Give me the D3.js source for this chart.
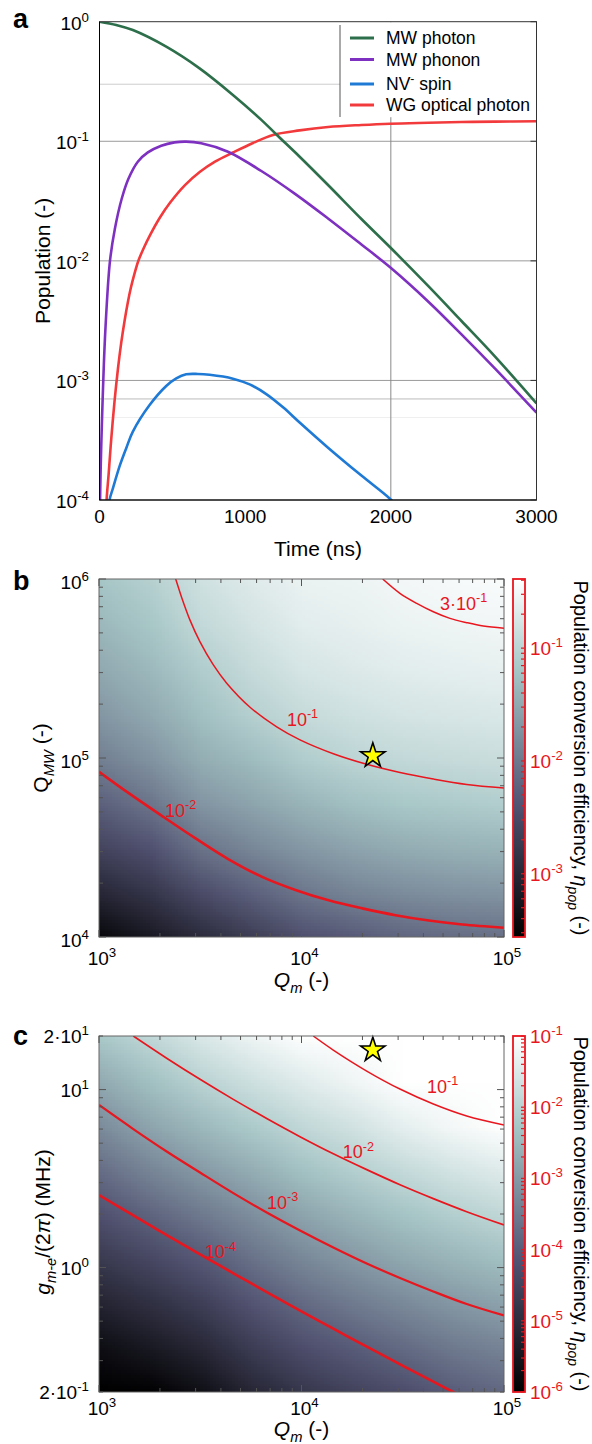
<!DOCTYPE html>
<html><head><meta charset="utf-8"><title>Population dynamics and conversion efficiency</title>
<script src="https://cdn.jsdelivr.net/npm/d3@7/dist/d3.min.js"></script>
<style>html,body{margin:0;padding:0;background:#fff;}svg{display:block;}</style>
</head><body>
<svg id="fig" width="592" height="1444" xmlns="http://www.w3.org/2000/svg"></svg>
<script>
// ================= DATA =================
// Panel a: population vs time (ns)
const photonTime  = [0,115,229,458,687,916,1111,1214,1374,1569,1798,1995,2256,2485,2714,3000];
const photonPop   = [1,0.938,0.851,0.618,0.407,0.244,0.151,0.114,0.0743,0.0431,0.0224,0.0130,0.00617,0.00314,0.00159,0.000643];
const phononTime  = [2,4,26,42,72,106,152,198,263,332,424,515,595,698,882,1111,1340,1569,1798,1995,2256,2485,2714,3000];
const phononPop   = [2e-5,1e-4,1e-3,0.0029,0.01,0.01866,0.0329,0.0484,0.0675,0.0807,0.0918,0.0979,0.0993,0.0962,0.0818,0.0564,0.0365,0.0226,0.0137,0.00883,0.004575,0.002426,0.001259,0.000538];
const spinTime    = [62,69,92,137,183,229,344,458,527,595,676,756,916,1031,1145,1260,1374,1569,1798,1992,2060];
const spinPop     = [7e-5,1e-4,1.25e-4,1.9e-4,2.70e-4,3.73e-4,6.22e-4,8.98e-4,1.040e-3,1.125e-3,1.132e-3,1.114e-3,1.035e-3,9.26e-4,7.69e-4,5.96e-4,4.45e-4,2.74e-4,1.60e-4,1.03e-4,8.5e-5];
const opticalTime = [44,48.7,62.5,80.3,103,126.3,149,172.3,195,214.9,240.3,266.4,305.5,347,415,484,587,690,793,916,1054,1191,1374,1569,1798,1995,2256,2485,2714,3000];
const opticalPop  = [6e-5,1e-4,1.63e-4,3.20e-4,6.65e-4,1.24e-3,2.06e-3,3.16e-3,4.53e-3,5.92e-3,7.82e-3,9.98e-3,0.01294,0.01643,0.02307,0.0306,0.0430,0.0556,0.0676,0.0805,0.0968,0.1130,0.1233,0.1315,0.1368,0.1403,0.1429,0.1449,0.1459,0.1469];
const timeTicks   = [0,1000,2000,3000];
const popTicks    = [1,0.1,0.01,0.001,0.0001];
const popTickExp  = ["0","-1","-2","-3","-4"];
const gridPopA    = [0.3,0.1,0.01,0.001,7e-4,4.9e-4];
const gridTimeA   = [2000];

// Panel b: efficiency map vs Qm and Q_MW (log10 eta on the grid)
const gridQm   = [1000,1778,3162,5623,10000,17783,31623,56234,100000];
const gridQmw  = [10000,17783,31623,56234,100000,177828,316228,562341,1000000];
const bLogEta = [
  [-3.45,-3.20,-2.95,-2.70,-2.45,-2.32,-2.20,-2.13,-2.10],
  [-3.00,-2.80,-2.50,-2.25,-2.02,-1.88,-1.80,-1.74,-1.71],
  [-2.60,-2.42,-2.06,-1.85,-1.68,-1.56,-1.47,-1.41,-1.38],
  [-2.25,-2.03,-1.70,-1.55,-1.38,-1.26,-1.17,-1.12,-1.09],
  [-1.92,-1.72,-1.45,-1.30,-1.10,-0.99,-0.93,-0.90,-0.87],
  [-1.68,-1.50,-1.26,-1.05,-0.90,-0.82,-0.77,-0.74,-0.72],
  [-1.50,-1.33,-1.10,-0.90,-0.76,-0.70,-0.65,-0.62,-0.60],
  [-1.34,-1.18,-0.93,-0.78,-0.65,-0.61,-0.56,-0.53,-0.51],
  [-1.20,-1.05,-0.82,-0.68,-0.57,-0.55,-0.50,-0.46,-0.43]
];
const bContour3e1 = [[25180,1000000],[30620,831800],[37070,731100],[44770,656100],[54080,602600],[65460,570200],[79070,545800],[100000,530900]];
const bContour1e1 = [[2294,1158000],[2392,1000000],[2562,786200],[2814,589300],[3154,445300],[3656,333300],[4272,261800],[5568,192200],[7544,149200],[9831,126200],[14360,105600],[20990,92220],[30650,82990],[44760,76330],[65430,71200],[100000,68000]];
const bContour1e2 = [[1000,83750],[1396,63830],[2042,47530],[2985,35650],[4365,27160],[6383,21680],[9333,18320],[13610,16030],[19950,14450],[29110,13240],[42560,12360],[62230,11750],[100000,11270]];
const bLabelText  = [["3·10","-1"],["10","-1"],["10","-2"]];
const bLabelAt    = [[48300,671000],[8470,151000],[2120,46800]];
const bStar       = [22500,103000];
const bColorRange = [2.75e-4,0.41];
const bColorTicks = [0.1,0.01,0.001];
const bColorExp   = ["-1","-2","-3"];
const qmTicks     = [1000,10000,100000];
const qmTickExp   = ["3","4","5"];
const qmwTicks    = [10000,100000,1000000];
const qmwTickExp  = ["4","5","6"];

// Panel c: efficiency map vs Qm and g_me/2pi (MHz) (log10 eta on the grid)
const gridG = [0.2,0.356,0.632,1.125,2.0,3.56,6.32,11.25,20.0];
const cLogEta = [
  [-6.19,-5.97,-5.66,-5.15,-4.78,-4.52,-4.29,-4.01,-3.80],
  [-5.70,-5.45,-5.13,-4.65,-4.28,-4.02,-3.78,-3.53,-3.36],
  [-5.20,-4.93,-4.60,-4.15,-3.79,-3.52,-3.27,-3.04,-2.87],
  [-4.71,-4.40,-4.07,-3.66,-3.31,-3.03,-2.77,-2.56,-2.37],
  [-4.21,-3.88,-3.53,-3.18,-2.83,-2.55,-2.30,-2.08,-1.89],
  [-3.72,-3.33,-2.99,-2.68,-2.34,-2.08,-1.83,-1.61,-1.44],
  [-3.22,-2.82,-2.49,-2.17,-1.87,-1.65,-1.36,-1.15,-1.00],
  [-2.73,-2.36,-1.99,-1.70,-1.45,-1.22,-0.92,-0.74,-0.65],
  [-2.23,-1.90,-1.54,-1.26,-1.03,-0.83,-0.60,-0.45,-0.38]
];
const cContour1e1 = [[11430,20.0],[14350,16.67],[20990,12.71],[30620,10.07],[44770,8.30],[65460,7.11],[100000,6.33]];
const cContour1e2 = [[1477,20.0],[2159,15.01],[3154,11.42],[4605,8.81],[6733,6.88],[9831,5.44],[14360,4.36],[20990,3.55],[30650,2.92],[44760,2.44],[65430,2.06],[100000,1.735]];
const cContour1e3 = [[1000,8.19],[1477,6.00],[2159,4.49],[3154,3.42],[4605,2.62],[6733,2.04],[9831,1.616],[14360,1.297],[20990,1.054],[30650,0.874],[44760,0.734],[65430,0.624],[100000,0.538]];
const cContour1e4 = [[1000,2.557],[1477,1.964],[2159,1.524],[3154,1.187],[4605,0.929],[6733,0.728],[9831,0.573],[14360,0.4535],[20990,0.3593],[30650,0.2861],[44760,0.2285],[60640,0.1913]];
const cLabelText  = [["10","-1"],["10","-2"],["10","-3"],["10","-4"]];
const cLabelAt    = [[41700,9.57],[16000,4.12],[6760,2.14],[3330,1.13]];
const cStar       = [22500,16.7];
const cColorRange = [1e-6,0.1];
const cColorTicks = [0.1,0.01,0.001,1e-4,1e-5,1e-6];
const cColorExp   = ["-1","-2","-3","-4","-5","-6"];
const gTicks      = [0.2,1,10,20];
const gTickText   = [["2·10","-1"],["10","0"],["10","1"],["2·10","1"]];

// ================= DRAWING =================
const FF = "'Liberation Sans', Arial, Helvetica, sans-serif";
const svg = d3.select("#fig").attr("font-family", FF);
const defs = svg.append("defs");
const RED = "#e8161e";

function rich(parent, x, y, parts, o = {}) {
  const size = o.size || 18;
  const t = parent.append("text").attr("x", x).attr("y", y)
    .attr("font-size", size).attr("text-anchor", o.anchor || "start")
    .attr("fill", o.fill || "#000");
  if (o.weight) t.attr("font-weight", o.weight);
  let cur = 0;
  parts.forEach(p => {
    const str = p[0], kind = p[1], ital = p[2];
    const target = kind === "sup" ? -0.42 * size : kind === "sub" ? 0.28 * size : 0;
    const s = t.append("tspan").text(str).attr("dy", target - cur);
    if (kind) s.attr("font-size", size * 0.7);
    if (ital) s.attr("font-style", "italic");
    cur = target;
  });
  return t;
}

function bone(t) {
  t = Math.max(0, Math.min(1, t));
  const a = 0.365079, b = 0.746032;
  const r = t < b ? t * 0.652778 / b : 0.652778 + (t - b) * (1 - 0.652778) / (1 - b);
  const g = t < a ? t * 0.319444 / a : t < b ? 0.319444 + (t - a) * (0.777778 - 0.319444) / (b - a) : 0.777778 + (t - b) * (1 - 0.777778) / (1 - b);
  const bl = t < a ? t * 0.444444 / a : 0.444444 + (t - a) * (1 - 0.444444) / (1 - a);
  return [Math.round(r * 255), Math.round(g * 255), Math.round(bl * 255)];
}
const boneGrad = defs.append("linearGradient").attr("id", "boneGrad")
  .attr("x1", 0).attr("y1", 1).attr("x2", 0).attr("y2", 0);
[0, 0.365079, 0.746032, 1].forEach(o => {
  const c = bone(o);
  boneGrad.append("stop").attr("offset", o).attr("stop-color", `rgb(${c[0]},${c[1]},${c[2]})`);
});

function clipRect(id, x0, y0, x1, y1) {
  defs.append("clipPath").attr("id", id).append("rect")
    .attr("x", x0).attr("y", y0).attr("width", x1 - x0).attr("height", y1 - y0);
}

// ---------- Panel a ----------
const xA = d3.scaleLinear().domain([0, 3000]).range([99.5, 536.5]);
const yA = d3.scaleLog().domain([1e-4, 1]).range([500, 21.7]);
const A = { x0: xA(0), x1: xA(3000), y0: yA(1), y1: yA(1e-4) };
clipRect("clipA", A.x0, A.y0, A.x1, A.y1);
const gA = svg.append("g");
const gridColA = ["#cdcdcd", "#9a9a9a", "#9a9a9a", "#9a9a9a", "#bcbcbc", "#efefef"];
gA.selectAll("line.gy").data(gridPopA).join("line").attr("class", "gy")
  .attr("x1", A.x0).attr("x2", A.x1).attr("y1", d => yA(d)).attr("y2", d => yA(d))
  .attr("stroke", (d, i) => gridColA[i]).attr("stroke-width", 1);
gA.selectAll("line.gx").data(gridTimeA).join("line").attr("class", "gx")
  .attr("x1", d => xA(d)).attr("x2", d => xA(d)).attr("y1", A.y0).attr("y2", A.y1)
  .attr("stroke", "#8a8a8a").attr("stroke-width", 1);

const seriesA = [
  { label: [["MW photon"]], color: "#2d6f4b", t: photonTime, p: photonPop },
  { label: [["MW phonon"]], color: "#7e31c0", t: phononTime, p: phononPop },
  { label: [["NV"], ["-", "sup"], [" spin"]], color: "#1f7ad6", t: spinTime, p: spinPop },
  { label: [["WG optical photon"]], color: "#f23a3c", t: opticalTime, p: opticalPop }
];
const lineA = d3.line().x(d => xA(d[0])).y(d => yA(d[1])).curve(d3.curveCatmullRom.alpha(0.5));
const curvesA = gA.append("g").attr("clip-path", "url(#clipA)");
[3, 2, 1, 0].forEach(i => {
  const s = seriesA[i];
  curvesA.append("path").attr("d", lineA(d3.zip(s.t, s.p)))
    .attr("fill", "none").attr("stroke", s.color).attr("stroke-width", 2.6)
    .attr("stroke-linejoin", "round");
});
// legend
const leg = gA.append("g");
leg.append("rect").attr("x", 340).attr("y", A.y0 + 0.5).attr("width", A.x1 - 340).attr("height", 95).attr("fill", "#fff");
leg.append("line").attr("x1", 340).attr("x2", 340).attr("y1", 25).attr("y2", 117).attr("stroke", "#555").attr("stroke-width", 1);
const legY = [38, 59.5, 84, 105];
seriesA.forEach((s, i) => {
  leg.append("line").attr("x1", 350).attr("x2", 374).attr("y1", legY[i]).attr("y2", legY[i])
    .attr("stroke", s.color).attr("stroke-width", 3);
  rich(leg, 386, legY[i] + 6, s.label, { size: 17.5 });
});
// frame
gA.append("rect").attr("x", A.x0).attr("y", A.y0).attr("width", A.x1 - A.x0).attr("height", A.y1 - A.y0)
  .attr("fill", "none").attr("stroke", "#333").attr("stroke-width", 1);
gA.append("line").attr("x1", A.x0).attr("x2", A.x0).attr("y1", A.y0).attr("y2", A.y1).attr("stroke", "#000");
gA.append("line").attr("x1", A.x0).attr("x2", A.x1).attr("y1", A.y1).attr("y2", A.y1).attr("stroke", "#000");
popTicks.forEach(v => {
  gA.append("line").attr("x1", A.x1).attr("x2", A.x1 - 6).attr("y1", yA(v)).attr("y2", yA(v)).attr("stroke", "#333");
});
timeTicks.forEach(v => rich(gA, xA(v), 523, [[String(v)]], { size: 19, anchor: "middle" }));
popTicks.forEach((v, i) => rich(gA, 89, yA(v) + 8, [["10"], [popTickExp[i], "sup"]], { size: 19, anchor: "end" }));
rich(gA, (A.x0 + A.x1) / 2, 556, [["Time (ns)"]], { size: 21, anchor: "middle" });
const yTitleA = gA.append("g").attr("transform", `translate(50,${(A.y0 + A.y1) / 2}) rotate(-90)`);
rich(yTitleA, 0, 0, [["Population (-)"]], { size: 21, anchor: "middle" });
rich(svg, 13, 28, [["a"]], { size: 27, weight: "bold" });

// ---------- Map panels ----------
function heatImage(g, xs, ys, xVals, yVals, grid, cmin, cmax, clipId) {
  const nx = xVals.length, ny = yVals.length;
  const cv = document.createElement("canvas");
  cv.width = nx; cv.height = ny;
  const ctx = cv.getContext("2d");
  const img = ctx.createImageData(nx, ny);
  for (let i = 0; i < ny; i++) for (let j = 0; j < nx; j++) {
    const c = bone((grid[i][j] - cmin) / (cmax - cmin));
    const k = ((ny - 1 - i) * nx + j) * 4;
    img.data[k] = c[0]; img.data[k + 1] = c[1]; img.data[k + 2] = c[2]; img.data[k + 3] = 255;
  }
  ctx.putImageData(img, 0, 0);
  const hx = (xs(xVals[1]) - xs(xVals[0])) / 2;
  const hy = (ys(yVals[0]) - ys(yVals[1])) / 2;
  const xL = xs(xVals[0]) - hx, xR = xs(xVals[nx - 1]) + hx;
  const yT = ys(yVals[ny - 1]) - hy, yB = ys(yVals[0]) + hy;
  g.append("g").attr("clip-path", `url(#${clipId})`).append("image")
    .attr("href", cv.toDataURL()).attr("x", xL).attr("y", yT)
    .attr("width", xR - xL).attr("height", yB - yT)
    .attr("preserveAspectRatio", "none").style("image-rendering", "auto");
}

function frameTicks(g, xs, ys, P) {
  g.append("rect").attr("x", P.x0).attr("y", P.y0).attr("width", P.x1 - P.x0).attr("height", P.y1 - P.y0)
    .attr("fill", "none").attr("stroke", "#666").attr("stroke-width", 1);
  const isMajor = v => Math.abs(Math.log10(v) - Math.round(Math.log10(v))) < 1e-6;
  xs.ticks().forEach(v => {
    const L = isMajor(v) ? 7 : 4, x = xs(v);
    g.append("line").attr("x1", x).attr("x2", x).attr("y1", P.y1).attr("y2", P.y1 - L).attr("stroke", "#555");
    g.append("line").attr("x1", x).attr("x2", x).attr("y1", P.y0).attr("y2", P.y0 + L).attr("stroke", "#555");
  });
  ys.ticks().forEach(v => {
    const L = isMajor(v) ? 7 : 4, y = ys(v);
    g.append("line").attr("x1", P.x0).attr("x2", P.x0 + L).attr("y1", y).attr("y2", y).attr("stroke", "#555");
    g.append("line").attr("x1", P.x1).attr("x2", P.x1 - L).attr("y1", y).attr("y2", y).attr("stroke", "#555");
  });
}

function colorbar(g, cs, ticks, exps, x, w) {
  const yT = cs.range()[1], yB = cs.range()[0];
  g.append("rect").attr("x", x).attr("y", yT).attr("width", w).attr("height", yB - yT).attr("fill", "url(#boneGrad)");
  cs.ticks().forEach(v => {
    g.append("line").attr("x1", x + w - 1).attr("x2", x + w - 4).attr("y1", cs(v)).attr("y2", cs(v))
      .attr("stroke", RED).attr("stroke-width", 1.2);
  });
  g.append("rect").attr("x", x).attr("y", yT).attr("width", w).attr("height", yB - yT)
    .attr("fill", "none").attr("stroke", RED).attr("stroke-width", 1.8);
  ticks.forEach((v, i) => rich(g, x + w + 5, cs(v) + 7, [["10"], [exps[i], "sup"]], { size: 19, fill: RED }));
}

function star(g, x, y) {
  g.append("path").attr("d", d3.symbol().type(d3.symbolStar).size(185)())
    .attr("transform", `translate(${x},${y})`)
    .attr("fill", "#ffff00").attr("stroke", "#000").attr("stroke-width", 1.6).attr("stroke-linejoin", "miter");
}

const cbTitle = [["Population conversion efficiency, "], ["η", null, true], ["pop", "sub", true], [" (-)"]];

// ---------- Panel b ----------
const xB = d3.scaleLog().domain([1e3, 1e5]).range([99, 504]);
const yB = d3.scaleLog().domain([1e4, 1e6]).range([937, 579]);
const B = { x0: 99, x1: 504, y0: 579, y1: 937 };
clipRect("clipB", B.x0, B.y0, B.x1, B.y1);
const gB = svg.append("g");
heatImage(gB, xB, yB, gridQm, gridQmw, bLogEta, Math.log10(bColorRange[0]), Math.log10(bColorRange[1]), "clipB");
const lineB = d3.line().x(d => xB(d[0])).y(d => yB(d[1])).curve(d3.curveCatmullRom.alpha(0.5));
const contB = gB.append("g").attr("clip-path", "url(#clipB)");
[[bContour3e1, 1.5], [bContour1e1, 1.5], [bContour1e2, 2.6]].forEach(([c, w]) => {
  contB.append("path").attr("d", lineB(c)).attr("fill", "none").attr("stroke", RED).attr("stroke-width", w);
});
bLabelText.forEach((t, i) => rich(gB, xB(bLabelAt[i][0]), yB(bLabelAt[i][1]), [[t[0]], [t[1], "sup"]], { size: 18, fill: RED }));
star(gB, xB(bStar[0]), yB(bStar[1]));
frameTicks(gB, xB, yB, B);
qmTicks.forEach((v, i) => rich(gB, xB(v) + 3, 965, [["10"], [qmTickExp[i], "sup"]], { size: 19, anchor: "middle" }));
qmwTicks.forEach((v, i) => rich(gB, 89, yB(v) + 10, [["10"], [qmwTickExp[i], "sup"]], { size: 19, anchor: "end" }));
rich(gB, (B.x0 + B.x1) / 2, 987, [["Q", null, true], ["m", "sub", true], [" (-)"]], { size: 21, anchor: "middle" });
const yTitleB = gB.append("g").attr("transform", `translate(48,${(B.y0 + B.y1) / 2}) rotate(-90)`);
rich(yTitleB, 0, 0, [["Q"], ["MW", "sub", true], [" (-)"]], { size: 21, anchor: "middle" });
const csB = d3.scaleLog().domain(bColorRange).range([937, 579]);
colorbar(gB, csB, bColorTicks, bColorExp, 513, 12);
const cbTB = gB.append("g").attr("transform", `translate(574,${(B.y0 + B.y1) / 2}) rotate(90)`);
rich(cbTB, 0, 0, cbTitle, { size: 20, anchor: "middle" });
rich(svg, 13, 590, [["b"]], { size: 27, weight: "bold" });

// ---------- Panel c ----------
const xC = d3.scaleLog().domain([1e3, 1e5]).range([99, 504]);
const yC = d3.scaleLog().domain([0.2, 20]).range([1392, 1036]);
const C = { x0: 99, x1: 504, y0: 1036, y1: 1392 };
clipRect("clipC", C.x0, C.y0, C.x1, C.y1);
const gC = svg.append("g");
heatImage(gC, xC, yC, gridQm, gridG, cLogEta, Math.log10(cColorRange[0]), Math.log10(cColorRange[1]), "clipC");
const lineC = d3.line().x(d => xC(d[0])).y(d => yC(d[1])).curve(d3.curveCatmullRom.alpha(0.5));
const contC = gC.append("g").attr("clip-path", "url(#clipC)");
[[cContour1e1, 1.5], [cContour1e2, 1.7], [cContour1e3, 2.2], [cContour1e4, 2.6]].forEach(([c, w]) => {
  contC.append("path").attr("d", lineC(c)).attr("fill", "none").attr("stroke", RED).attr("stroke-width", w);
});
cLabelText.forEach((t, i) => rich(gC, xC(cLabelAt[i][0]), yC(cLabelAt[i][1]), [[t[0]], [t[1], "sup"]], { size: 18, fill: RED }));
star(gC, xC(cStar[0]), yC(cStar[1]));
frameTicks(gC, xC, yC, C);
qmTicks.forEach((v, i) => rich(gC, xC(v) + 3, 1415, [["10"], [qmTickExp[i], "sup"]], { size: 19, anchor: "middle" }));
gTicks.forEach((v, i) => rich(gC, 89, yC(v) + 7, [[gTickText[i][0]], [gTickText[i][1], "sup"]], { size: 19, anchor: "end" }));
rich(gC, (C.x0 + C.x1) / 2, 1436, [["Q", null, true], ["m", "sub", true], [" (-)"]], { size: 21, anchor: "middle" });
const yTitleC = gC.append("g").attr("transform", `translate(50,1222) rotate(-90)`);
rich(yTitleC, 0, 0, [["g", null, true], ["m-e", "sub", true], ["/(2"], ["π", null, true], [") (MHz)"]], { size: 21, anchor: "middle" });
const csC = d3.scaleLog().domain(cColorRange).range([1392, 1036]);
colorbar(gC, csC, cColorTicks, cColorExp, 513, 12);
const cbTC = gC.append("g").attr("transform", `translate(574,${(C.y0 + C.y1) / 2}) rotate(90)`);
rich(cbTC, 0, 0, cbTitle, { size: 20, anchor: "middle" });
rich(svg, 13, 1045, [["c"]], { size: 27, weight: "bold" });
</script>
</body></html>
